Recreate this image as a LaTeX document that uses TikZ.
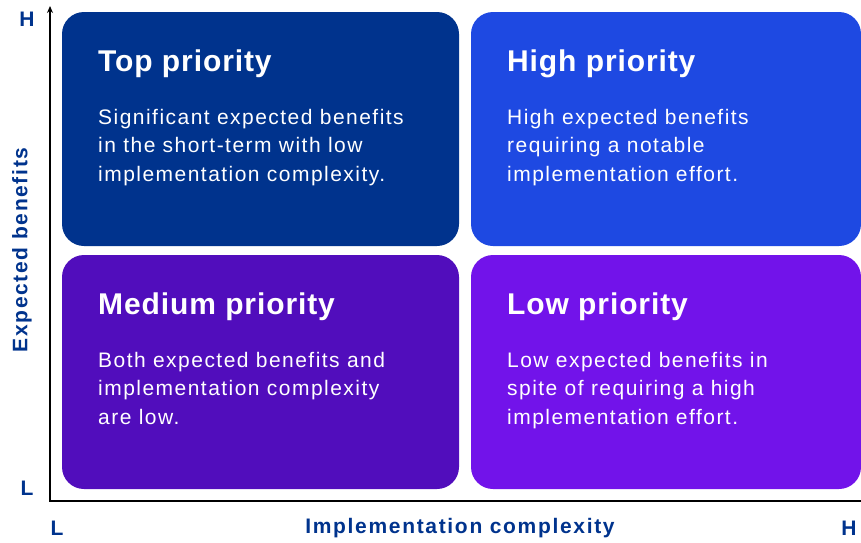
\documentclass[tikz,border=0pt]{standalone}
\usepackage{fontspec}
\usetikzlibrary{arrows.meta}
\setmainfont[LetterSpace=8]{Liberation Sans}
\newfontfamily\headfont[LetterSpace=3]{Liberation Sans}
\newfontfamily\quadfont[LetterSpace=7]{Liberation Sans}
\definecolor{kblue}{HTML}{00338D}
\definecolor{kcobalt}{HTML}{1E49E2}
\definecolor{kdarkpurple}{HTML}{510DBC}
\definecolor{kpurple}{HTML}{7213EA}
\tikzset{
	quad/.style={rounded corners=22pt, inner sep=0pt},
	head/.style={white, anchor=base west, inner sep=0pt, font=\headfont\bfseries\fontsize{30}{33}\selectfont},
	body/.style={white, anchor=base west, inner sep=0pt, align=left, font=\quadfont\fontsize{21}{28.5}\selectfont},
	axlabel/.style={kblue, inner sep=0pt, font=\bfseries\fontsize{21}{24}\selectfont}
}
\begin{document}
\begin{tikzpicture}[x=1pt, y=-1pt]
	\useasboundingbox (0,0) rectangle (861,542);
	% quadrants
	\node[quad, fill=kblue, minimum width=397pt, minimum height=234pt](top) at (260.5,129) {};
	\node[quad, fill=kcobalt, minimum width=390pt, minimum height=234pt](high) at (666,129) {};
	\node[quad, fill=kdarkpurple, minimum width=397pt, minimum height=234pt](medium) at (260.5,372) {};
	\node[quad, fill=kpurple, minimum width=390pt, minimum height=234pt](low) at (666,372) {};
	% titles and texts (texts sit on their last line)
	\node[head](toptitle) at (98,71) {Top priority};
	\node[body](toptext) at (98,181) {Significant expected benefits\\in the short-term with low\\implementation complexity.};
	\node[head](hightitle) at (507,71) {High priority};
	\node[body](hightext) at (507,181) {High expected benefits\\requiring a notable\\implementation effort.};
	\node[head](mediumtitle) at (98,314) {Medium priority};
	\node[body](mediumtext) at (98,424) {Both expected benefits and\\implementation complexity\\are low.};
	\node[head](lowtitle) at (507,314) {Low priority};
	\node[body](lowtext) at (507,424) {Low expected benefits in\\spite of requiring a high\\implementation effort.};
	% axes
	\coordinate (origin) at (50,501);
	\coordinate (xend) at (861,501);
	\coordinate (yend) at (50,6);
	\draw[line width=2pt, -{Stealth[length=7pt, width=6pt]}] (xend) -- (origin) -- (yend);
	\node[axlabel](yhigh) at (27,19) {H};
	\node[axlabel](ylow) at (27,488) {L};
	\node[axlabel](xlow) at (57,528) {L};
	\node[axlabel](xhigh) at (849,528) {H};
	\node[axlabel](xname) at (460,528) {Implementation complexity};
	\node[axlabel, rotate=90](yname) at (22,250) {Expected benefits};
\end{tikzpicture}
\end{document}
